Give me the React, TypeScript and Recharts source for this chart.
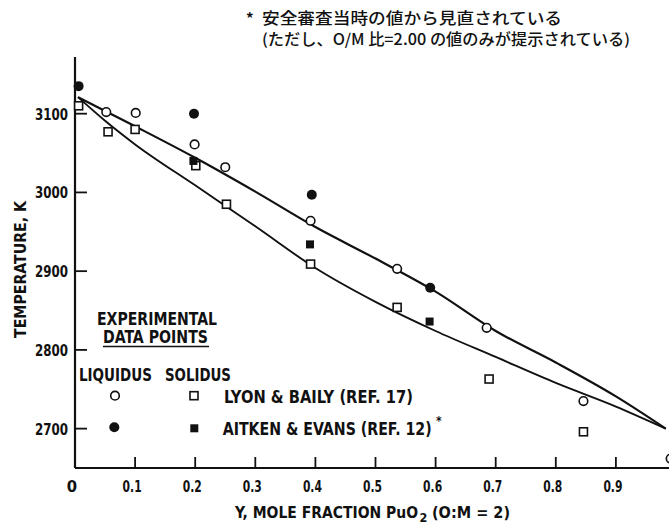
import React from 'react';
import { ComposedChart, Line, Scatter, XAxis, YAxis, Customized } from 'recharts';

const FONT = "'Liberation Sans Narrow', 'DejaVu Sans Condensed', 'Roboto Condensed', 'Arial Narrow', sans-serif";
const CJK = "'Noto Sans CJK JP', 'Noto Sans CJK SC', sans-serif";
const INK = '#111';

// axes
const xTicks = [0, 0.1, 0.2, 0.3, 0.4, 0.5, 0.6, 0.7, 0.8, 0.9, 1.0];
const xTickLabels = ['0', '0.1', '0.2', '0.3', '0.4', '0.5', '0.6', '0.7', '0.8', '0.9', ''];
const yTicks = [2700, 2800, 2900, 3000, 3100];

// fitted curves (x = mole fraction PuO2, t = temperature K)
const liquidusCurve = [
  { x: 0.005, t: 3121 }, { x: 0.1, t: 3084 }, { x: 0.2, t: 3044 }, { x: 0.3, t: 3001 },
  { x: 0.4, t: 2956 }, { x: 0.5, t: 2916 }, { x: 0.6, t: 2874 }, { x: 0.7, t: 2824 },
  { x: 0.8, t: 2784 }, { x: 0.9, t: 2741 }, { x: 0.983, t: 2700 },
];
const solidusCurve = [
  { x: 0.005, t: 3121 }, { x: 0.05, t: 3091 }, { x: 0.1, t: 3061 }, { x: 0.2, t: 3009 },
  { x: 0.3, t: 2957 }, { x: 0.4, t: 2904 }, { x: 0.5, t: 2861 }, { x: 0.6, t: 2824 },
  { x: 0.7, t: 2791 }, { x: 0.8, t: 2758 }, { x: 0.9, t: 2728 }, { x: 0.983, t: 2700 },
];

// experimental points
const lyonLiquidus = [
  { x: 0.052, t: 3102 }, { x: 0.101, t: 3101 }, { x: 0.199, t: 3061 }, { x: 0.25, t: 3032 },
  { x: 0.392, t: 2964 }, { x: 0.536, t: 2903 }, { x: 0.685, t: 2828 }, { x: 0.846, t: 2735 },
  { x: 0.991, t: 2662 },
];
const lyonSolidus = [
  { x: 0.006, t: 3110 }, { x: 0.055, t: 3077 }, { x: 0.1, t: 3080 }, { x: 0.201, t: 3034 },
  { x: 0.252, t: 2985 }, { x: 0.392, t: 2909 }, { x: 0.536, t: 2854 }, { x: 0.689, t: 2763 },
  { x: 0.846, t: 2696 },
];
const aitkenLiquidus = [
  { x: 0.006, t: 3135 }, { x: 0.198, t: 3100 }, { x: 0.394, t: 2997 }, { x: 0.591, t: 2879 },
];
const aitkenSolidus = [
  { x: 0.197, t: 3040 }, { x: 0.391, t: 2934 }, { x: 0.59, t: 2836 },
];

const OpenCircle = (p: any) => (
  <circle cx={p.cx} cy={p.cy} r={4.3} fill="#fff" stroke={INK} strokeWidth={1.6} />
);
const FilledCircle = (p: any) => <circle cx={p.cx} cy={p.cy} r={5} fill={INK} />;
const OpenSquare = (p: any) => (
  <rect x={p.cx - 4} y={p.cy - 4} width={8} height={8} fill="#fff" stroke={INK} strokeWidth={1.6} />
);
const FilledSquare = (p: any) => <rect x={p.cx - 4} y={p.cy - 4} width={8} height={8} fill={INK} />;

const BottomTick = (props: any) => {
  const { x, y, index } = props;
  const label = xTickLabels[index];
  return (
    <g>
      <line x1={x} y1={y} x2={x} y2={y - 11} stroke={INK} strokeWidth={1.8} />
      {label && (
        <text x={x - 3} y={y + 24} textAnchor="middle" fontFamily={FONT} fontWeight={700}
          fontSize={16.5} fill={INK}
          {...(label.length > 1 ? { textLength: 19, lengthAdjust: 'spacingAndGlyphs' } : {})}>
          {label}
        </text>
      )}
    </g>
  );
};

const TopTick = (props: any) => (
  <line x1={props.x} y1={props.y} x2={props.x} y2={props.y + 10} stroke={INK} strokeWidth={1.8} />
);

const LeftTick = (props: any) => {
  const { x, y, payload } = props;
  return (
    <g>
      <line x1={x} y1={y} x2={x + 12} y2={y} stroke={INK} strokeWidth={1.8} />
      <text x={x - 7} y={y + 6} textAnchor="end" fontFamily={FONT} fontWeight={700}
        fontSize={16.5} fill={INK} textLength={33} lengthAdjust="spacingAndGlyphs">
        {String(payload.value)}
      </text>
    </g>
  );
};

const RightTick = (props: any) => (
  <line x1={props.x - 10} y1={props.y} x2={props.x} y2={props.y} stroke={INK} strokeWidth={1.8} />
);

const txt = { fontFamily: FONT, fontWeight: 700, fill: INK } as const;

const Annotations = () => (
  <g>
    {/* note at top */}
    <text x={246} y={24} fontFamily={CJK} fontWeight={700} fontSize={15} fill={INK}>*</text>
    <text x={262} y={24} fontFamily={CJK} fontWeight={500} fontSize={15.5} fill={INK}
      textLength={300} lengthAdjust="spacingAndGlyphs">安全審査当時の値から見直されている</text>
    <text x={262} y={45} fontFamily={CJK} fontWeight={500} fontSize={15.5} fill={INK}
      textLength={368} lengthAdjust="spacingAndGlyphs">(ただし、O/M 比=2.00 の値のみが提示されている)</text>

    {/* axis titles */}
    <text x={26} y={269.5} transform="rotate(-90, 26, 269.5)" textAnchor="middle" fontSize={16.5}
      textLength={137} lengthAdjust="spacingAndGlyphs" {...txt}>TEMPERATURE, K</text>
    <text x={235} y={518} fontSize={16.5} textLength={183} lengthAdjust="spacingAndGlyphs" {...txt}>Y, MOLE FRACTION PuO</text>
    <text x={419.5} y={521.5} fontSize={12.5} {...txt}>2</text>
    <text x={432} y={518} fontSize={16.5} textLength={78} lengthAdjust="spacingAndGlyphs" {...txt}>(O:M = 2)</text>

    {/* legend block */}
    <text x={97} y={325} fontSize={17.5} textLength={120} lengthAdjust="spacingAndGlyphs" {...txt}>EXPERIMENTAL</text>
    <text x={103} y={342.7} fontSize={17.5} textLength={105} lengthAdjust="spacingAndGlyphs" {...txt}>DATA POINTS</text>
    <line x1={103} y1={346.5} x2={209} y2={346.5} stroke={INK} strokeWidth={1.5} />
    <text x={79} y={381} fontSize={17.5} textLength={73} lengthAdjust="spacingAndGlyphs" {...txt}>LIQUIDUS</text>
    <text x={165} y={381} fontSize={17.5} textLength={66} lengthAdjust="spacingAndGlyphs" {...txt}>SOLIDUS</text>
    <OpenCircle cx={115} cy={395.7} />
    <OpenSquare cx={194} cy={395.7} />
    <text x={224} y={402.7} fontSize={17.5} textLength={189} lengthAdjust="spacingAndGlyphs" {...txt}>LYON &amp; BAILY (REF. 17)</text>
    <FilledCircle cx={114.3} cy={427.3} />
    <FilledSquare cx={194.3} cy={428.3} />
    <text x={222.7} y={435} fontSize={17.5} textLength={209} lengthAdjust="spacingAndGlyphs" {...txt}>AITKEN &amp; EVANS (REF. 12)</text>
    <text x={436} y={425} fontSize={12} {...txt}>*</text>
  </g>
);

export default function App() {
  return (
    <div style={{ position: 'fixed', left: 0, top: 0, width: 669, height: 524, overflow: 'hidden', background: '#fff' }}>
      <ComposedChart width={692} height={524} margin={{ top: 57, right: 16, bottom: 0, left: 0 }}>
        <XAxis xAxisId={0} dataKey="x" type="number" domain={[0, 1]} ticks={xTicks} orientation="bottom"
          height={56} tickSize={0} tickMargin={0} tickLine={false} tick={<BottomTick />}
          axisLine={{ stroke: INK, strokeWidth: 2.2 }} interval={0} allowDecimals />
        <XAxis xAxisId="top" type="number" domain={[0, 1]} ticks={xTicks} orientation="top"
          height={0} tickSize={0} tickMargin={0} tickLine={false} tick={<TopTick />}
          axisLine={{ stroke: INK, strokeWidth: 2 }} interval={0} />
        <YAxis yAxisId={0} type="number" domain={[2650, 3172]} ticks={yTicks} orientation="left"
          width={75} tickSize={0} tickMargin={0} tickLine={false} tick={<LeftTick />}
          axisLine={{ stroke: INK, strokeWidth: 2.2 }} interval={0} />
        <YAxis yAxisId="right" type="number" domain={[2650, 3172]} ticks={yTicks} orientation="right"
          width={0} tickSize={0} tickMargin={0} tickLine={false} tick={<RightTick />}
          axisLine={{ stroke: INK, strokeWidth: 2 }} interval={0} />

        <Line data={liquidusCurve} dataKey="t" type="monotone" stroke={INK} strokeWidth={2.2}
          dot={false} activeDot={false} isAnimationActive={false} />
        <Line data={solidusCurve} dataKey="t" type="monotone" stroke={INK} strokeWidth={1.9}
          dot={false} activeDot={false} isAnimationActive={false} />

        <Scatter data={lyonLiquidus} dataKey="t" shape={OpenCircle} isAnimationActive={false} />
        <Scatter data={lyonSolidus} dataKey="t" shape={OpenSquare} isAnimationActive={false} />
        <Scatter data={aitkenLiquidus} dataKey="t" shape={FilledCircle} isAnimationActive={false} />
        <Scatter data={aitkenSolidus} dataKey="t" shape={FilledSquare} isAnimationActive={false} />

        <Customized component={Annotations} />
      </ComposedChart>
    </div>
  );
}
